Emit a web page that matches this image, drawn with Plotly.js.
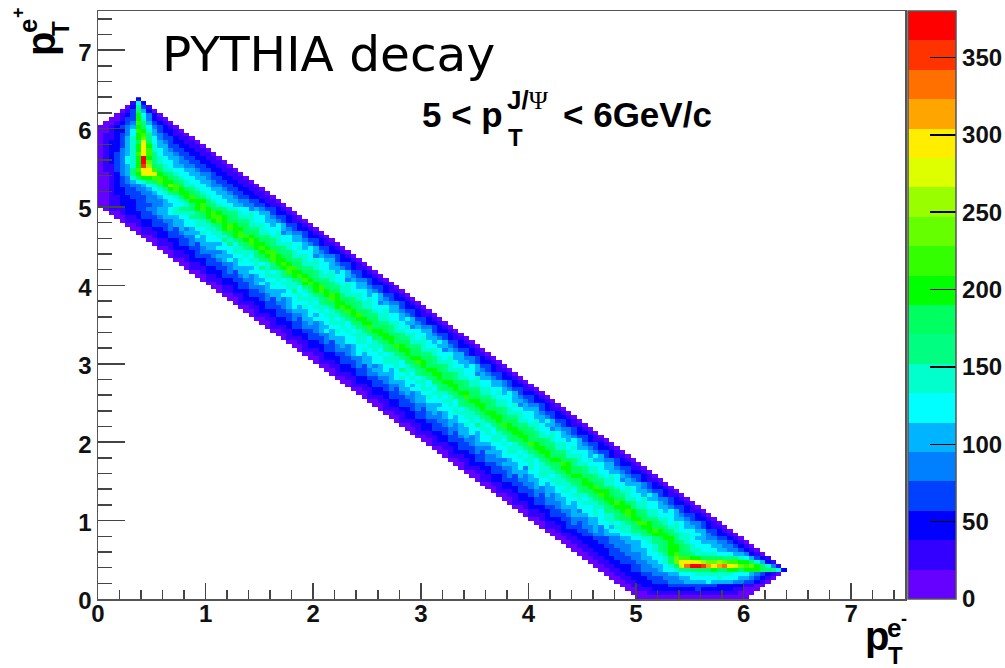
<!DOCTYPE html>
<html><head><meta charset="utf-8">
<script src="https://cdn.plot.ly/plotly-3.0.1.min.js"></script>
<style>html,body{margin:0;padding:0;background:#fff}#c{width:1005px;height:668px}</style>
</head><body><div id="c"></div>
<script>
// histogram bin size (GeV/c) and colour-level width (counts)
const binWidth = 0.05;
const levelWidth = 19;
const colorLevels = ['#6600ff','#3300ff','#0000ff','#0040ff','#0080ff','#00b4ff','#00ffff','#00ffcc','#00ff80','#00ff60','#00ff00','#33ff00','#66ff00','#99ff00','#ddff00','#ffee00','#ffa500','#ff7000','#ff3300','#ff0000'];
const colorbarTicks = [0,50,100,150,200,250,300,350];
const axisTicks = [0,1,2,3,4,5,6,7];
// first filled x bin of each y bin, bottom row first
const firstBin = [100,99,98,97,96,95,94,93,92,91,90,89,88,87,86,85,84,83,82,81,80,79,78,77,76,75,74,73,72,71,70,69,68,67,66,65,64,63,62,61,60,59,58,57,56,55,54,53,52,51,50,49,48,47,46,45,44,43,42,41,40,39,38,37,36,35,34,33,32,31,30,29,28,27,26,25,24,23,22,21,20,19,18,17,16,15,14,13,12,11,10,9,8,7,6,5,4,3,2,1,0,0,0,0,0,0,0,0,0,0,0,0,0,0,0,0,0,0,0,0,0,1,2,3,4,5,6,7];
// colour level (0-9,a-j) read for each cell of each y bin, bottom row first
const levelRows = [
"00000 00000 00000 00000 0",
"00011 11111 11111 11111 000",
"00111 22222 22232 22222 11000",
"00112 22223 33333 33322 22211 00",
"00112 22333 44455 55655 55443 3210",
"00112 22333 44455 66666 76665 54321 0",
"00112 22334 44556 66777 77776 66543 210",
"00112 23344 45667 88999 9a99a a9aaa 99862",
"00112 22334 45567 9ehjj igfgh fecbc a9741",
"00112 23334 45567 9cfff edccd cbbaa 97521",
"00112 23334 45566 79cbb aa999 98887 65321",
"00112 23334 44566 78ab9 98777 76665 54210",
"00112 22334 45556 789aa 98776 66554 43210",
"00112 22334 44556 6789a a9876 66554 43210",
"00112 22334 44555 67889 a9876 65554 43210",
"00112 22333 44556 67789 aa877 65544 33210",
"00112 23344 55566 7789a aa987 76654 32210",
"00122 23345 45667 7889a ba987 66655 33210",
"01112 33344 54657 7789a a9987 76554 32110",
"00112 23434 55667 6789b ba987 67654 43210",
"00122 23344 45567 7899a a9887 76554 32210",
"01112 33345 55676 7789b a9977 66654 33210",
"00112 23344 54667 6889a ba987 76565 32110",
"00122 23345 55666 7789a aa877 66554 33210",
"01112 33444 56567 7789a ba987 76654 32210",
"00122 23344 55667 6789a a9977 67554 43210",
"00112 23435 45667 7789b a9887 66565 32110",
"01112 33344 55677 6899a aa987 76554 33210",
"00122 23345 45566 7789a b9887 67654 32210",
"00112 23344 56567 7789a a9977 66555 43210",
"01122 33344 55667 77899 a9887 76454 32110",
"00112 23435 45677 6789a a9987 67654 33210",
"00112 33345 55667 7789a 99877 66554 32210",
"01112 23344 56476 7789a a9987 76554 33110",
"00122 23345 55667 67899 ba877 66655 32210",
"00112 33444 45667 7689a a9987 67554 43210",
"01112 23344 56667 6789a 99977 76565 32110",
"00122 23435 55677 6789a a9887 66654 33210",
"00112 33344 45667 7789a a9977 67554 32210",
"01112 23345 55667 6789b a9887 76654 33210",
"00122 33344 56677 6899a 99987 66565 32110",
"00112 23345 45667 7789a a9877 76554 33210",
"01112 23435 56567 6789a a9987 67654 32210",
"00122 33344 55667 7699a a9987 66454 43210",
"00112 23345 45768 7689b a9887 76554 32110",
"01112 23344 55667 6789a 99977 67565 33210",
"00122 33444 56567 7789a a9887 66554 32210",
"00112 23345 45677 7789a a9877 76654 33210",
"01112 23435 56667 6789a 99987 66555 32110",
"00122 33344 55567 6899a a9877 67454 43210",
"00112 23345 56667 7689a a9987 76554 32210",
"01112 33344 55767 6789b 99887 66654 33210",
"00122 23345 45667 7789a a9977 67565 32210",
"00112 23435 56677 6899a 99887 76654 33110",
"01112 33344 56567 6789a a9877 66554 32210",
"00122 23345 55667 7699a a9987 76655 43210",
"00112 23344 56767 6789a 99877 67554 32210",
"01112 33445 55667 6899a a9987 66454 33210",
"00122 23345 56568 7789a a9877 76654 32110",
"00112 23435 45667 6789a 99987 66565 33210",
"01112 33345 56677 7699b a9877 76554 32210",
"00122 23344 55667 7789a a9987 67554 43210",
"00112 23345 65667 6789a 99887 66655 32110",
"01112 33444 56767 6899a a9977 76454 33210",
"00122 23345 45667 7789b a9887 66554 32210",
"00112 23435 56677 6789a 99977 76565 33210",
"01112 33345 55667 7699a a9887 67554 32110",
"00122 23344 56667 7789a a9987 76654 33210",
"00112 23345 65767 6789a a9877 66655 32210",
"01112 33444 55667 6789b 99987 67454 43210",
"00122 23345 45677 7699a a9887 76554 32210",
"00112 23435 56667 6789a a9977 66565 33210",
"01112 33344 56567 7789a b9887 76654 32110",
"00122 23345 55667 6789b a9987 67554 33210",
"00112 33345 65767 778ab a9877 66655 32210",
"01112 23344 56667 6899a a9987 76454 43210",
"00122 23435 45677 7789b a9987 67654 32210",
"00112 33345 56667 6789a ba877 76565 33210",
"01122 23345 55568 678ab a9977 66654 32110",
"00112 33444 56667 7689a b9887 76554 33210",
"00122 23345 65767 778ab a9987 67655 32210",
"01112 23344 55667 6789b a9887 66454 43210",
"00112 33345 45677 789ab a9877 76654 32210",
"00122 23435 56667 678ba a9987 67565 33210",
"01112 23345 55568 789ab b9887 66554 32110",
"00112 33344 56667 678ab a9977 76654 33210",
"00122 23345 65767 789ba a9887 67655 32210",
"01112 33345 55667 689ab a9977 76454 43210",
"00112 23444 45677 778ab b9887 66654 32210",
"00122 23345 56667 789ab a9987 67565 33210",
"01112 33435 55568 689ba a9877 76654 32110",
"00112 23345 56668 789ab a9987 66554 33210",
"00122 33344 65667 78abb a9887 76655 32210",
"01112 23345 55767 789ab 99977 67454 43210",
"00112 23435 45667 78aba a9887 66654 32210",
"00122 33345 56677 789ab a9977 76565 33210",
"01112 23344 55667 78aba 99887 66554 32110",
"00112 33345 55668 89abb a9877 76654 33210",
"00122 23345 56777 789ab a9887 67655 32210",
"01112 23344 55678 89aba 99877 66454 33210",
"00112 22333 44556 678ab 98766 55443 32110",
"00112 22334 44566 78aaa 87665 54433 2110",
"00112 23334 45667 9ab98 76655 43322 110",
"00122 33344 56789 aa987 66554 33221 10",
"00122 33445 678ab a9876 65543 32211 0",
"00123 34456 78acb 97766 54433 22110",
"00123 45678 9baa9 87665 54332 2110",
"00123 479aa bba98 76655 43322 110",
"00124 58aef ea987 66554 43221 10",
"01134 58bff b9776 65543 32211 0",
"01134 57aid 98765 54433 22110",
"01234 67ajc 87665 44332 2110",
"01234 67aja 87655 43322 110",
"01234 57bfb 86554 33221 10",
"01224 57afb 76543 32211 0",
"01223 57afa 75533 22110",
"01223 579e9 65432 2110",
"01123 57ac8 64332 110",
"01123 46ab8 54321 10",
"00122 46ba7 53221 0",
"00123 45a96 43210",
"00123 4b853 210",
"00133 a7421 0",
"0123a 6420",
"01395 20",
"02831",
"162",
"2"
];

const nBins = 150;
const z = levelRows.map((row, r) => {
  const out = new Array(nBins).fill(null);
  row.replace(/\s/g, '').split('').forEach((ch, i) => {
    out[firstBin[r] + i] = (parseInt(ch, 20) + 0.5) * levelWidth;
  });
  return out;
});
const nLevels = colorLevels.length;
const colorscale = [];
colorLevels.forEach((c, i) => { colorscale.push([i / nLevels, c]); colorscale.push([(i + 1) / nLevels, c]); });

const L = 98, R = 905, T = 11, B = 599;
const fx = p => (p - L) / (R - L), fy = p => (B - p) / (B - T);
const BOLD = 'Liberation Sans';
const note = (text, px, py, size, o) => Object.assign({
  text, xref: 'paper', yref: 'paper', x: fx(px), y: fy(py), showarrow: false,
  xanchor: 'left', yanchor: 'middle', borderpad: 0,
  font: {family: BOLD, size, color: '#000', weight: 700}
}, o || {});

const axisFont = {family: BOLD, size: 24, color: '#111', weight: 700};
const axisBase = {
  range: [0, 7.5], tickvals: axisTicks, ticktext: axisTicks.map(String), ticks: 'inside', tickcolor: '#444', tickwidth: 1.5,
  showgrid: false, zeroline: false, showline: true, mirror: true, linecolor: '#555', linewidth: 1.5,
  tickfont: axisFont, fixedrange: true
};
const layout = {
  width: 1005, height: 668, paper_bgcolor: '#fff', plot_bgcolor: '#fff', showlegend: false,
  margin: {l: L, r: 1005 - R, t: T, b: 668 - B, autoexpand: false, pad: 0},
  xaxis: Object.assign({}, axisBase, {ticklen: 16, ticklabelstandoff: -7, minor: {dtick: 0.2, tick0: 0, ticks: 'inside', ticklen: 9, tickcolor: '#444', tickwidth: 1.5}}),
  yaxis: Object.assign({}, axisBase, {ticklen: 27, ticklabelshift: 2, minor: {dtick: 0.2, tick0: 0, ticks: 'inside', ticklen: 14, tickcolor: '#444', tickwidth: 1.5}}),
  annotations: [
    note('PYTHIA decay', 161, 54, 48.6, {font: {family: 'DejaVu Sans', size: 48.6, color: '#000'}}),
    note('5 &lt; p', 421, 114, 35),
    note('J/<span style="font-family:Liberation Serif;font-weight:400">Ψ</span>', 506, 100, 26),
    note('T', 507, 137, 24),
    note('&lt; 6GeV/c', 562, 114, 35),
    note('p', 864, 636, 40),
    note('e', 886, 628, 26),
    note('-', 900, 619, 18),
    note('T', 887, 655, 24),
    note('p', 41, 44, 40, {xanchor: 'center', textangle: -90}),
    note('e', 28, 26, 26, {xanchor: 'center', textangle: -90}),
    note('+', 18, 13, 18, {xanchor: 'center', textangle: -90}),
    note('T', 60, 29, 24, {xanchor: 'center', textangle: -90})
  ]
};
const trace = {
  type: 'heatmap', z, x0: binWidth / 2, dx: binWidth, y0: binWidth / 2, dy: binWidth,
  zmin: 0, zmax: nLevels * levelWidth, colorscale, hoverongaps: false,
  colorbar: {
    x: fx(907.5), xanchor: 'left', xref: 'paper', y: 0.5, yanchor: 'middle', len: 1, lenmode: 'fraction',
    thickness: 48, thicknessmode: 'pixels', xpad: 0, ypad: 0,
    outlinecolor: '#555', outlinewidth: 1.5, bordercolor: '#fff', borderwidth: 0,
    tickmode: 'array', tickvals: colorbarTicks, ticktext: colorbarTicks.map(String),
    ticks: 'inside', ticklen: 26, tickcolor: '#000', tickwidth: 1.5,
    tickfont: {family: BOLD, size: 24, color: '#111', weight: 700}
  }
};
Plotly.newPlot('c', [trace], layout, {displayModeBar: false, staticPlot: true});
</script></body></html>
